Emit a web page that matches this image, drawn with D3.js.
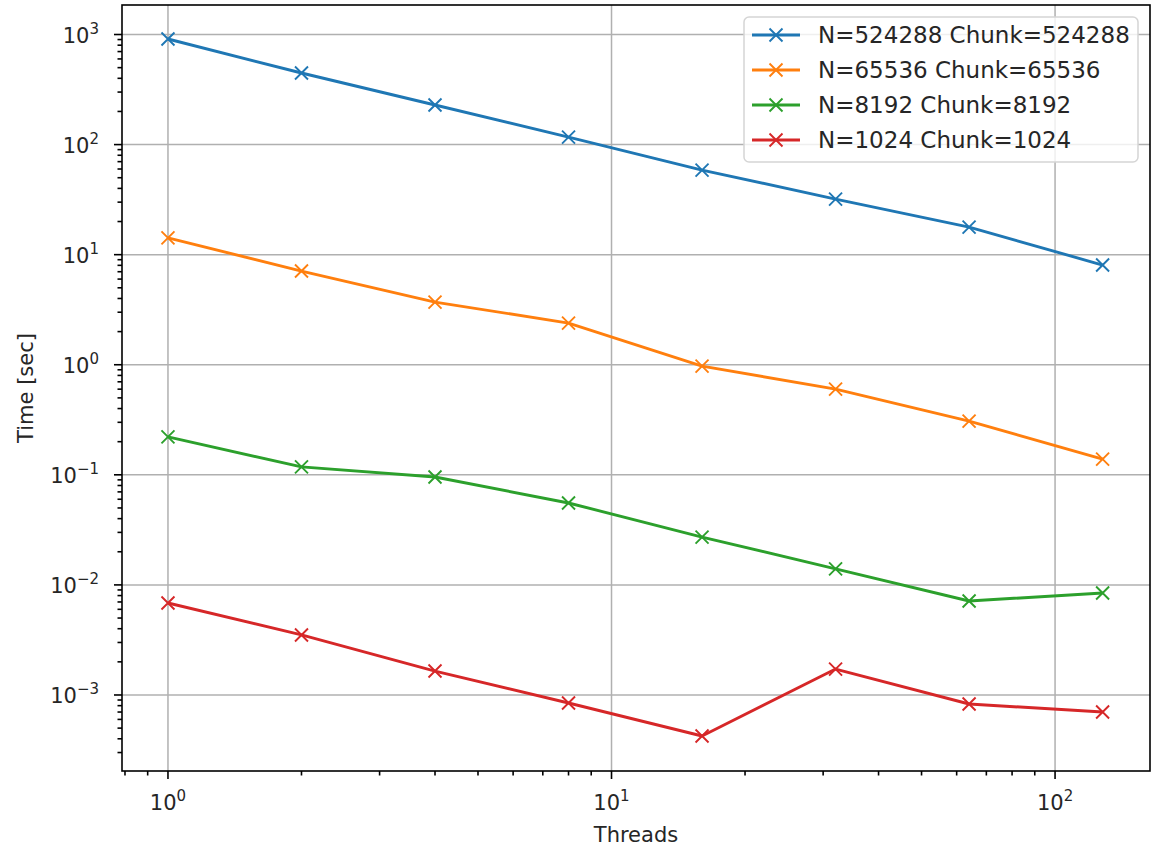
<!DOCTYPE html>
<html lang="en">
<head>
<meta charset="utf-8">
<title>Time vs Threads</title>
<style>
   html,body { margin:0; padding:0; background:white; }
   svg { display:block; font-family:"DejaVu Sans", sans-serif; }
</style>
<script src="https://d3js.org/d3.v7.min.js"></script>
</head>
<body>
<script>
// data
let threads = [1, 2, 4, 8, 16, 32, 64, 128];
let labels = ['N=524288 Chunk=524288', 'N=65536 Chunk=65536', 'N=8192 Chunk=8192', 'N=1024 Chunk=1024'];
let colors = ['#1f77b4', '#ff7f0e', '#2ca02c', '#d62728'];
let t524288 = [910, 447, 229, 117, 58.7, 32, 17.8, 8.05];
let t65536 = [14.2, 7.1, 3.71, 2.39, 0.973, 0.60, 0.308, 0.139];
let t8192 = [0.221, 0.118, 0.0955, 0.0555, 0.0272, 0.0140, 0.00714, 0.00845];
let t1024 = [0.00685, 0.00351, 0.00165, 0.000846, 0.000424, 0.00172, 0.000828, 0.0007];
let xTicks = [1, 10, 100];
let yTicks = [1e-3, 1e-2, 1e-1, 1, 10, 100, 1000];

let series = [t524288, t65536, t8192, t1024].map((v, i) => ({
   label: labels[i], color: colors[i], values: v.map((d, j) => ({x: threads[j], y: d}))
}));

const W = 1153, H = 848;
const m = {left:122, right:1150, top:5, bottom:771};

let x = d3.scaleLog().domain([0.7877, 163.7]).range([m.left, m.right]);
let y = d3.scaleLog().domain([2.039e-4, 1854]).range([m.bottom, m.top]);

const svg = d3.select('body').append('svg').attr('width', W).attr('height', H);

// minor ticks: 2..9 within each decade
function minors(scale) {
   let [a, b] = scale.domain();
   let out = [];
   for (let e = Math.floor(Math.log10(a)); e <= Math.ceil(Math.log10(b)); e++) {
      for (let k = 2; k <= 9; k++) {
         let v = k * Math.pow(10, e);
         if (v >= a && v <= b) out.push(v);
      }
   }
   return out;
}

// grid
let grid = svg.append('g').attr('stroke', '#b0b0b0').attr('stroke-width', 1.5);
grid.selectAll('line.gx').data(xTicks).join('line')
   .attr('x1', d => x(d)).attr('x2', d => x(d)).attr('y1', m.top).attr('y2', m.bottom);
grid.selectAll('line.gy').data(yTicks).join('line')
   .attr('y1', d => y(d)).attr('y2', d => y(d)).attr('x1', m.left).attr('x2', m.right);

// lines + markers
let line = d3.line().x(d => x(d.x)).y(d => y(d.y));
for (let s of series) {
   svg.append('path').attr('d', line(s.values)).attr('fill', 'none')
      .attr('stroke', s.color).attr('stroke-width', 2.9).attr('stroke-linejoin', 'round');
   svg.append('g').selectAll('path').data(s.values).join('path')
      .attr('transform', d => `translate(${x(d.x)},${y(d.y)})`)
      .attr('d', 'M-6.5,-6.5L6.5,6.5M-6.5,6.5L6.5,-6.5')
      .attr('stroke', s.color).attr('stroke-width', 1.9);
}

// spines
svg.append('rect').attr('x', m.left).attr('y', m.top)
   .attr('width', m.right - m.left).attr('height', m.bottom - m.top)
   .attr('fill', 'none').attr('stroke', 'black').attr('stroke-width', 1.6);

// ticks
let tk = svg.append('g').attr('stroke', 'black').attr('stroke-width', 1.6);
tk.selectAll('line.xM').data(xTicks).join('line')
   .attr('x1', d => x(d)).attr('x2', d => x(d)).attr('y1', m.bottom).attr('y2', m.bottom + 8);
tk.selectAll('line.xm').data(minors(x)).join('line')
   .attr('x1', d => x(d)).attr('x2', d => x(d)).attr('y1', m.bottom).attr('y2', m.bottom + 4.5);
tk.selectAll('line.yM').data(yTicks).join('line')
   .attr('y1', d => y(d)).attr('y2', d => y(d)).attr('x1', m.left).attr('x2', m.left - 8);
tk.selectAll('line.ym').data(minors(y)).join('line')
   .attr('y1', d => y(d)).attr('y2', d => y(d)).attr('x1', m.left).attr('x2', m.left - 4.5);

function powLabel(sel, v) {
   let e = Math.round(Math.log10(v));
   sel.append('tspan').text('10');
   sel.append('tspan').attr('font-size', 15).attr('dy', -9).text(e < 0 ? '\u2212' + (-e) : e);
}

svg.append('g').selectAll('text').data(xTicks).join('text')
   .attr('x', d => x(d)).attr('y', m.bottom + 39).attr('text-anchor', 'middle')
   .attr('font-size', 21).attr('fill', '#262626')
   .each(function(d) { powLabel(d3.select(this), d); });

svg.append('g').selectAll('text').data(yTicks).join('text')
   .attr('x', 99).attr('y', d => y(d) + 8).attr('text-anchor', 'end')
   .attr('font-size', 21).attr('fill', '#262626')
   .each(function(d) { powLabel(d3.select(this), d); });

// axis labels
svg.append('text').attr('x', (m.left + m.right) / 2).attr('y', 842)
   .attr('text-anchor', 'middle').attr('font-size', 21).attr('fill', '#262626').text('Threads');
svg.append('text').attr('transform', `translate(33,${(m.top + m.bottom) / 2}) rotate(-90)`)
   .attr('text-anchor', 'middle').attr('font-size', 21).attr('fill', '#262626').text('Time [sec]');

// legend
let lg = svg.append('g');
lg.append('rect').attr('x', 744).attr('y', 17).attr('width', 394).attr('height', 145)
   .attr('rx', 5).attr('fill', 'white').attr('fill-opacity', 0.8)
   .attr('stroke', '#d5d5d5').attr('stroke-width', 1.5);
series.forEach((s, i) => {
   let cy = 35 + i * 35;
   lg.append('line').attr('x1', 752).attr('x2', 800).attr('y1', cy).attr('y2', cy)
      .attr('stroke', s.color).attr('stroke-width', 2.9);
   lg.append('path').attr('transform', `translate(776,${cy})`)
      .attr('d', 'M-6.5,-6.5L6.5,6.5M-6.5,6.5L6.5,-6.5')
      .attr('stroke', s.color).attr('stroke-width', 1.9);
   lg.append('text').attr('x', 818).attr('y', cy + 8).attr('font-size', 23)
      .attr('fill', '#262626').text(s.label);
});
</script>
</body>
</html>
